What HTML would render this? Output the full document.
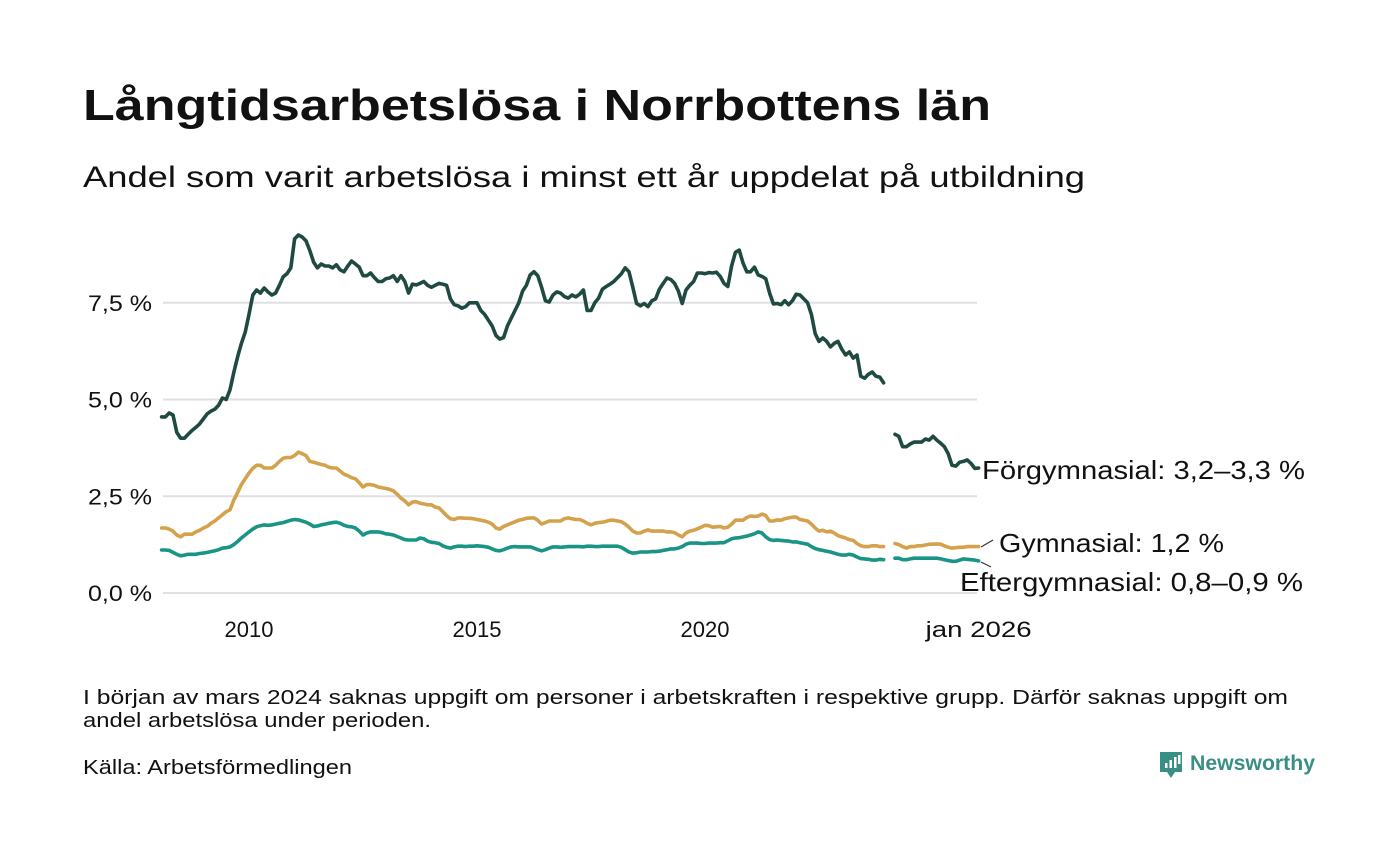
<!DOCTYPE html>
<html><head><meta charset="utf-8">
<style>
html,body{margin:0;padding:0;background:#fff;}
svg text{font-family:"Liberation Sans","DejaVu Sans",sans-serif;fill:#111;}
</style></head>
<body>
<svg id="chart" width="1400" height="840" viewBox="0 0 1400 840" xmlns="http://www.w3.org/2000/svg">
<text x="83" y="120" font-size="44" font-weight="bold" textLength="908" lengthAdjust="spacingAndGlyphs">Långtidsarbetslösa i Norrbottens län</text>
<text x="83" y="187" font-size="30" textLength="1002" lengthAdjust="spacingAndGlyphs">Andel som varit arbetslösa i minst ett år uppdelat på utbildning</text>
<g id="grid"></g>
<g id="yticks"></g>
<g id="xticks"></g>
<g id="series"></g>
<g id="labels"></g>
<text x="83" y="704" font-size="20" textLength="1205" lengthAdjust="spacingAndGlyphs">I början av mars 2024 saknas uppgift om personer i arbetskraften i respektive grupp. Därför saknas uppgift om</text>
<text x="83" y="727" font-size="20" textLength="348" lengthAdjust="spacingAndGlyphs">andel arbetslösa under perioden.</text>
<text x="83" y="774" font-size="20" textLength="269" lengthAdjust="spacingAndGlyphs">Källa: Arbetsförmedlingen</text>
<g>
<path d="M1160 752 h22 v20 h-7 l-4 6 l-4 -6 h-7 z" fill="#3a8f84"/>
<rect x="1165" y="763" width="2.5" height="5" fill="#fff"/>
<rect x="1169.5" y="760" width="2.5" height="8" fill="#fff"/>
<rect x="1174" y="757" width="2.5" height="11" fill="#fff"/>
<rect x="1178" y="755" width="2.5" height="9" fill="#fff"/>
<text x="1190" y="770" font-size="21" font-weight="bold" fill="#3a8f84" style="fill:#3a8f84" textLength="125" lengthAdjust="spacingAndGlyphs">Newsworthy</text>
</g>
</svg>
<script>
const yTicks=[0,2.5,5,7.5];
const yTickLabels=["0,0 %","2,5 %","5,0 %","7,5 %"];
const xTicks=[2010,2015,2020,2026];
const xTickLabels=["2010","2015","2020","jan 2026"];
const startYear=2008, startMonth=2;
const forgymnasial=[4.55,4.55,4.65,4.6,4.15,4.0,4.0,4.1,4.2,4.28,4.37,4.5,4.63,4.7,4.75,4.85,5.04,5.0,5.25,5.7,6.1,6.45,6.74,7.2,7.7,7.83,7.75,7.88,7.78,7.7,7.75,7.95,8.17,8.25,8.4,9.15,9.25,9.2,9.1,8.85,8.55,8.4,8.5,8.45,8.45,8.4,8.48,8.35,8.3,8.45,8.58,8.5,8.42,8.2,8.2,8.27,8.15,8.05,8.05,8.12,8.14,8.2,8.05,8.2,8.05,7.75,7.98,7.96,8.0,8.05,7.95,7.9,7.95,8.0,7.98,7.95,7.6,7.45,7.42,7.36,7.4,7.5,7.5,7.5,7.3,7.2,7.05,6.9,6.65,6.56,6.6,6.9,7.1,7.3,7.5,7.8,7.95,8.22,8.3,8.2,7.9,7.55,7.52,7.7,7.78,7.75,7.66,7.62,7.7,7.65,7.72,7.83,7.3,7.3,7.5,7.62,7.85,7.92,7.98,8.05,8.15,8.25,8.4,8.3,7.9,7.48,7.42,7.48,7.4,7.55,7.6,7.85,8.0,8.14,8.1,8.0,7.8,7.48,7.83,7.95,8.05,8.27,8.27,8.25,8.28,8.27,8.29,8.18,8.0,7.92,8.45,8.8,8.86,8.53,8.3,8.3,8.42,8.22,8.18,8.12,7.75,7.47,7.48,7.45,7.55,7.45,7.55,7.72,7.7,7.6,7.5,7.2,6.7,6.5,6.59,6.5,6.36,6.45,6.5,6.3,6.15,6.23,6.07,6.15,5.6,5.55,5.65,5.71,5.6,5.58,5.43,null,null,4.1,4.05,3.78,3.78,3.85,3.9,3.9,3.9,3.98,3.95,4.05,3.95,3.87,3.78,3.6,3.3,3.28,3.38,3.4,3.44,3.35,3.22,3.23];
const gymnasial=[1.68,1.68,1.65,1.6,1.5,1.45,1.52,1.52,1.52,1.58,1.62,1.68,1.72,1.8,1.86,1.94,2.02,2.1,2.15,2.4,2.6,2.8,2.95,3.1,3.22,3.3,3.3,3.23,3.23,3.23,3.3,3.4,3.48,3.5,3.5,3.55,3.64,3.6,3.55,3.4,3.38,3.35,3.32,3.3,3.25,3.23,3.23,3.15,3.07,3.03,2.98,2.95,2.85,2.74,2.8,2.8,2.78,2.74,2.72,2.7,2.68,2.64,2.55,2.45,2.38,2.28,2.35,2.36,2.32,2.3,2.28,2.28,2.22,2.2,2.1,2.0,1.92,1.9,1.94,1.94,1.93,1.93,1.92,1.9,1.88,1.86,1.83,1.78,1.68,1.65,1.72,1.76,1.8,1.84,1.88,1.9,1.93,1.94,1.94,1.88,1.78,1.82,1.86,1.86,1.86,1.86,1.92,1.94,1.92,1.9,1.9,1.86,1.8,1.76,1.8,1.82,1.83,1.85,1.88,1.88,1.86,1.84,1.78,1.7,1.6,1.55,1.55,1.6,1.63,1.6,1.6,1.6,1.6,1.58,1.58,1.56,1.5,1.45,1.55,1.6,1.62,1.66,1.7,1.75,1.74,1.7,1.71,1.72,1.68,1.7,1.78,1.88,1.88,1.88,1.95,1.99,1.98,1.99,2.04,2.0,1.86,1.86,1.89,1.88,1.92,1.94,1.96,1.96,1.9,1.88,1.86,1.78,1.68,1.6,1.62,1.58,1.6,1.55,1.48,1.45,1.42,1.38,1.36,1.28,1.22,1.2,1.2,1.22,1.22,1.2,1.2,null,null,1.28,1.25,1.2,1.16,1.2,1.2,1.22,1.22,1.24,1.26,1.26,1.27,1.26,1.22,1.18,1.16,1.17,1.18,1.18,1.2,1.2,1.2,1.2];
const eftergymnasial=[1.11,1.11,1.1,1.05,1.0,0.96,0.98,1.0,1.0,1.0,1.02,1.03,1.05,1.07,1.09,1.12,1.16,1.17,1.19,1.25,1.33,1.42,1.5,1.58,1.65,1.71,1.74,1.76,1.75,1.76,1.78,1.8,1.82,1.85,1.88,1.9,1.89,1.86,1.83,1.78,1.72,1.73,1.76,1.78,1.8,1.82,1.83,1.8,1.75,1.72,1.71,1.68,1.6,1.5,1.55,1.58,1.58,1.58,1.56,1.53,1.52,1.5,1.46,1.42,1.38,1.37,1.37,1.37,1.42,1.4,1.34,1.31,1.3,1.28,1.22,1.18,1.16,1.19,1.21,1.21,1.2,1.21,1.21,1.22,1.21,1.2,1.18,1.14,1.1,1.09,1.12,1.16,1.19,1.2,1.19,1.19,1.19,1.19,1.16,1.12,1.09,1.12,1.16,1.19,1.19,1.18,1.19,1.2,1.2,1.2,1.2,1.19,1.21,1.21,1.2,1.2,1.21,1.21,1.21,1.21,1.21,1.18,1.12,1.06,1.03,1.04,1.06,1.06,1.06,1.07,1.07,1.08,1.1,1.12,1.14,1.14,1.16,1.2,1.26,1.29,1.29,1.29,1.28,1.28,1.29,1.29,1.29,1.3,1.3,1.35,1.4,1.42,1.43,1.45,1.47,1.5,1.53,1.58,1.55,1.45,1.38,1.36,1.37,1.36,1.35,1.34,1.32,1.32,1.3,1.28,1.26,1.2,1.15,1.12,1.1,1.08,1.06,1.03,1.0,0.98,0.98,1.0,0.98,0.93,0.89,0.88,0.87,0.85,0.85,0.87,0.86,null,null,0.9,0.9,0.86,0.86,0.88,0.9,0.9,0.9,0.9,0.9,0.9,0.9,0.88,0.86,0.84,0.82,0.82,0.85,0.88,0.87,0.86,0.85,0.83];

const NS="http://www.w3.org/2000/svg";
const X0=163,X1=977;
function xScale(t){return 249+45.6*(t-2010);}
function yScale(v){return 593-38.7*v;}
function mk(tag,attrs,parent){const e=document.createElementNS(NS,tag);for(const k in attrs)e.setAttribute(k,attrs[k]);parent.appendChild(e);return e;}
const grid=document.getElementById('grid'),yt=document.getElementById('yticks'),xt=document.getElementById('xticks'),sg=document.getElementById('series'),lg=document.getElementById('labels');
yTicks.forEach((v,i)=>{
  const l=mk('line',{x1:X0,x2:X1,y1:yScale(v),y2:yScale(v),stroke:'#dfdfe6','stroke-width':2},grid);
  
  
  const t=mk('text',{x:152,y:yScale(v)+8,'font-size':22,'text-anchor':'end',textLength:64,lengthAdjust:'spacingAndGlyphs'},yt);
  t.textContent=yTickLabels[i];
  
  
});
xTicks.forEach((v,i)=>{
  const attrs={x:xScale(v),y:637,'font-size':22,'text-anchor':'middle'};
  if(xTickLabels[i].length>4){attrs.textLength=106;attrs.lengthAdjust='spacingAndGlyphs';}
  const t=mk('text',attrs,xt);
  t.textContent=xTickLabels[i];
  
  
});
function tOf(i){return startYear+(startMonth-1+i)/12;}
function drawSeries(arr,color,name){
  let d='',pen=false;
  arr.forEach((v,i)=>{
    if(v===null){pen=false;return;}
    d+=(pen?'L':'M')+xScale(tOf(i)).toFixed(1)+' '+yScale(v).toFixed(1);
    pen=true;
  });
  const p=mk('path',{d:d,fill:'none',stroke:color,'stroke-width':3.6,'stroke-linejoin':'round','stroke-linecap':'round'},sg);
  
  
}
drawSeries(eftergymnasial,'#1a9486','line-eftergymnasial');
drawSeries(gymnasial,'#d4a24c','line-gymnasial');
drawSeries(forgymnasial,'#1f4a42','line-forgymnasial');
function label(txt,x,y,w,name){
  const t=mk('text',{x:x,y:y,'font-size':26,textLength:w,lengthAdjust:'spacingAndGlyphs'},lg);
  t.textContent=txt;
  
  
}
label('Förgymnasial: 3,2–3,3 %',982,479,323,'label-forgymnasial');
label('Gymnasial: 1,2 %',999,552,225,'label-gymnasial');
label('Eftergymnasial: 0,8–0,9 %',960,591,343,'label-eftergymnasial');
const l1=mk('path',{d:'M981 547 L993 540',stroke:'#333','stroke-width':1.2,fill:'none'},lg);


const l2=mk('path',{d:'M981 562 L991 567',stroke:'#333','stroke-width':1.2,fill:'none'},lg);


</script>
</body></html>
